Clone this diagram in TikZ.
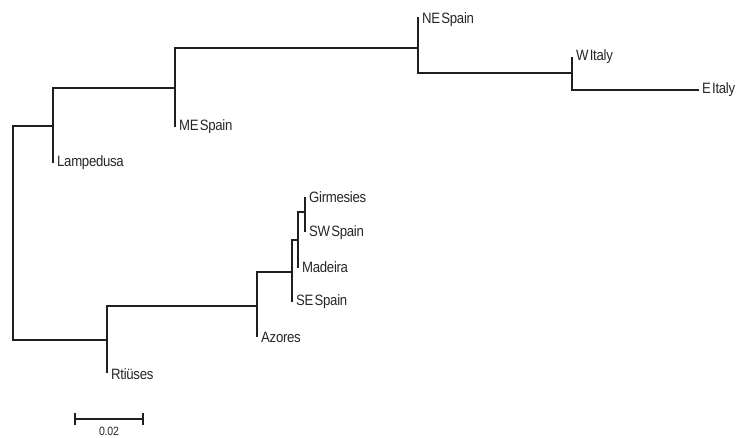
\documentclass[tikz,border=0pt]{standalone}
\usepackage{fontspec}
\setmainfont{Liberation Sans}[FakeStretch=0.88,LetterSpace=-2,WordSpace=0.35]
\begin{document}
\begin{tikzpicture}[x=1pt,y=-1pt,
  branch/.style={line width=1.2pt,draw=black!88},
  leaf/.style={anchor=west,inner sep=0pt,xshift=4pt,font=\fontsize{15}{17}\selectfont,text=black!85}]
\useasboundingbox (0,0) rectangle (737,437);
% internal nodes
\coordinate (R) at (13,233);
\coordinate (A) at (53,126);
\coordinate (B) at (175,88);
\coordinate (C) at (418,48);
\coordinate (D) at (572,73);
\coordinate (E) at (107,340);
\coordinate (F) at (257,306);
\coordinate (G) at (292,272);
\coordinate (H) at (298,240);
\coordinate (I) at (305,212);
% leaves
\coordinate (lLamp) at (53,163);
\coordinate (lME) at (175,127);
\coordinate (lNE) at (418,17);
\coordinate (lWI) at (572,57);
\coordinate (lEI) at (699,90);
\coordinate (lRt) at (107,373);
\coordinate (lAz) at (257,337);
\coordinate (lSE) at (292,302);
\coordinate (lMa) at (298,268);
\coordinate (lGi) at (305,197);
\coordinate (lSW) at (305,232);
% labels
\node[leaf] (tLamp) at (53,163) {Lampedusa};
\node[leaf] (tME) at (175,127) {ME Spain};
\node[leaf] (tNE) at (418,20) {NE Spain};
\node[leaf] (tWI) at (572,57) {W Italy};
\node[leaf,xshift=-1pt] (tEI) at (699,90) {E Italy};
\node[leaf] (tRt) at (107,374) {Rtiüses};
\node[leaf] (tAz) at (257,337) {Azores};
\node[leaf] (tSE) at (292,302) {SE Spain};
\node[leaf] (tMa) at (298,267) {Madeira};
\node[leaf] (tGi) at (305,197) {Girmesies};
\node[leaf] (tSW) at (305,233) {SW Spain};
% branches
\draw[branch] (R) |- (A);
\draw[branch] (R) |- (E);
\draw[branch] (A) |- (B);
\draw[branch] (A) -- (lLamp);
\draw[branch] (B) |- (C);
\draw[branch] (B) -- (lME);
\draw[branch] (C) -- (lNE);
\draw[branch] (C) |- (D);
\draw[branch] (D) -- (lWI);
\draw[branch] (D) |- (lEI);
\draw[branch] (E) |- (F);
\draw[branch] (E) -- (lRt);
\draw[branch] (F) |- (G);
\draw[branch] (F) -- (lAz);
\draw[branch] (G) |- (H);
\draw[branch] (G) -- (lSE);
\draw[branch] (H) |- (I);
\draw[branch] (H) -- (lMa);
\draw[branch] (I) -- (lGi);
\draw[branch] (I) -- (lSW);
% scale bar
\coordinate (s1) at (75,419);
\coordinate (s2) at (143,419);
\draw[branch] (s1) -- (s2);
\draw[branch] ([yshift=-6pt]s1) -- ([yshift=6pt]s1);
\draw[branch] ([yshift=-6pt]s2) -- ([yshift=6pt]s2);
\node[anchor=north,inner sep=0pt,font=\fontsize{12}{14}\selectfont,text=black!85] (sl) at (109,427) {0.02};
\end{tikzpicture}
\end{document}
